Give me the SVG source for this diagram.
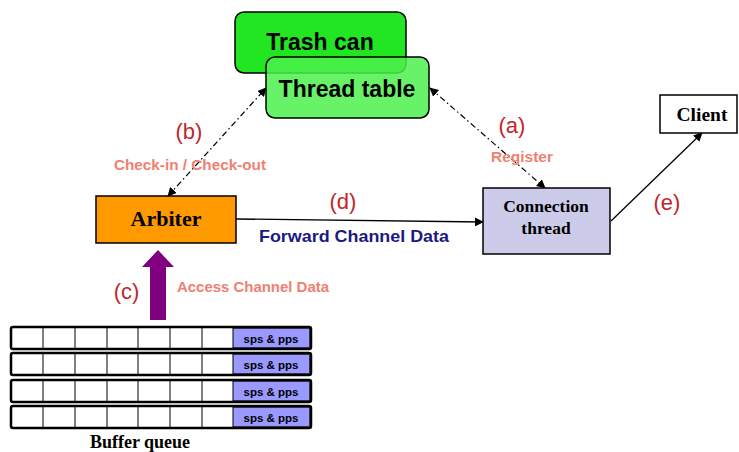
<svg xmlns="http://www.w3.org/2000/svg" width="739" height="452" viewBox="0 0 739 452">
  <style>
    .box { stroke: #000; stroke-width: 1.5; }
    .title { font-family: "Liberation Sans", Arial, sans-serif; font-weight: bold; font-size: 23px; fill: #000; text-anchor: middle; }
    .serif { font-family: "Liberation Serif", "Times New Roman", serif; font-weight: bold; fill: #000; text-anchor: middle; }
    .step { font-family: "Liberation Sans", Arial, sans-serif; font-size: 22px; fill: #c0272d; text-anchor: middle; }
    .note { font-family: "Liberation Sans", Arial, sans-serif; font-weight: bold; font-size: 15px; fill: #f08070; text-anchor: middle; }
    .fwd { font-family: "Liberation Sans", Arial, sans-serif; font-weight: bold; font-size: 17px; fill: #1a1a80; text-anchor: middle; }
    .dashdot { fill: none; stroke: #000; stroke-width: 1.2; stroke-dasharray: 6 3 1.5 3; }
    .solid { fill: none; stroke: #000; stroke-width: 1.3; }
    .row { fill: #fff; stroke: #000; stroke-width: 2.5; }
    .cell { stroke: #000; stroke-width: 1; }
    .sps { fill: #9999ff; stroke: #000; stroke-width: 1; }
    .spst { font-family: "Liberation Sans", Arial, sans-serif; font-weight: bold; font-size: 11.5px; fill: #000; text-anchor: middle; }
  </style>
  <defs>
    <marker id="ah" viewBox="0 0 10 10" refX="9" refY="5" markerWidth="9" markerHeight="9" markerUnits="userSpaceOnUse" orient="auto-start-reverse">
      <path d="M0,0 L10,5 L0,10 z" fill="#000"/>
    </marker>
    <g id="queueRow">
      <rect class="row" x="11" y="0" width="300" height="22" rx="2"/>
      <rect class="sps" x="233" y="1.2" width="76.8" height="19.6"/>
      <path class="cell" d="M43,0 V22 M75,0 V22 M107,0 V22 M138,0 V22 M170,0 V22 M202,0 V22"/>
      <text class="spst" x="271" y="15.5">sps &amp; pps</text>
    </g>
  </defs>

  <!-- connectors -->
  <g id="connectors">
    <path class="dashdot" d="M168,196 L266,88" marker-start="url(#ah)" marker-end="url(#ah)"/>
    <path class="dashdot" d="M430,88 L545,188" marker-start="url(#ah)" marker-end="url(#ah)"/>
    <path class="solid" d="M236,219 L483,222" marker-end="url(#ah)"/>
    <path class="solid" d="M611,221 L702,133" marker-end="url(#ah)"/>
    <path id="accessArrow" d="M150,320 V267 H142 L158,250 L174,267 H166 V320 z" fill="#800080"/>
  </g>

  <!-- labels on connectors -->
  <g id="labels">
    <text class="step" x="189" y="139">(b)</text>
    <text class="note" x="190" y="170" textLength="152" lengthAdjust="spacingAndGlyphs">Check-in / Check-out</text>
    <text class="step" x="512" y="133">(a)</text>
    <text class="note" x="522" y="162" textLength="62" lengthAdjust="spacingAndGlyphs">Register</text>
    <text class="step" x="343" y="209">(d)</text>
    <text class="fwd" x="354" y="242" textLength="190" lengthAdjust="spacingAndGlyphs">Forward Channel Data</text>
    <text class="step" x="667" y="210">(e)</text>
    <text class="step" x="126.5" y="299">(c)</text>
    <text class="note" x="253" y="292" textLength="152" lengthAdjust="spacingAndGlyphs">Access Channel Data</text>
  </g>

  <g id="trash-can">
    <rect class="box" x="235" y="12" width="171" height="61" rx="9" fill="#22e622"/>
    <text class="title" x="320" y="50">Trash can</text>
  </g>

  <g id="thread-table">
    <rect class="box" x="266" y="57" width="163" height="61" rx="9" fill="#4cf04c" fill-opacity="0.85"/>
    <text class="title" x="347" y="97">Thread table</text>
  </g>

  <g id="arbiter">
    <rect class="box" x="96" y="196" width="140" height="47" fill="#ff9900"/>
    <text class="serif" x="166" y="226" font-size="22">Arbiter</text>
  </g>

  <g id="connection-thread">
    <rect class="box" x="483" y="188" width="127" height="66" fill="#ccccea"/>
    <text class="serif" x="546" y="212" font-size="17.5">Connection</text>
    <text class="serif" x="546" y="234" font-size="17.5">thread</text>
  </g>

  <g id="client">
    <rect class="box" x="660" y="95" width="77" height="38" fill="#fff"/>
    <text class="serif" x="702" y="121" font-size="19.5">Client</text>
  </g>

  <g id="buffer-queue">
    <use href="#queueRow" y="327"/>
    <use href="#queueRow" y="353"/>
    <use href="#queueRow" y="380"/>
    <use href="#queueRow" y="406"/>
    <text class="serif" x="140" y="448" font-size="18">Buffer queue</text>
  </g>
</svg>
